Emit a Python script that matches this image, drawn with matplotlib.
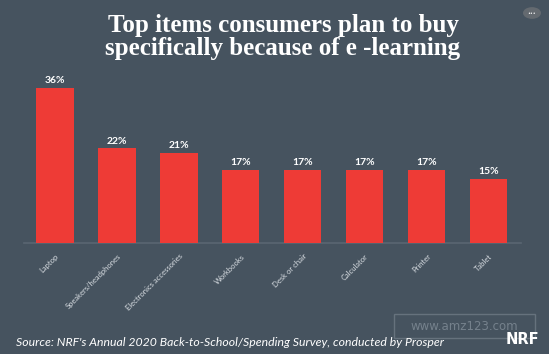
import matplotlib.pyplot as plt
from matplotlib.patches import Rectangle, Circle

items = ['Laptop', 'Speakers/headphones', 'Electronics accessories', 'Workbooks',
         'Desk or chair', 'Calculator', 'Printer', 'Tablet']
shares = [36, 22, 21, 17, 17, 17, 17, 15]

bg = '#46535f'
red = '#ee3b36'
W, H = 554, 361

fig = plt.figure(figsize=(W / 100, H / 100), dpi=100, facecolor=bg)

# baseline at y=243 px, axis line from x=24 to 521 px, bars ~62 px apart
ax = fig.add_axes([24 / W, 1 - 243 / H, 497 / W, (243 - 71) / H])
ax.set_facecolor(bg)
x = list(range(len(items)))
bars = ax.bar(x, shares, width=0.6, color=red, zorder=3)
ax.set_xlim(-0.5, 7.52)
ax.set_ylim(0, 40)

for r, v in zip(bars, shares):
    ax.annotate(f'{v}%', xy=(r.get_x() + r.get_width() / 2, v), xytext=(0, 2),
                textcoords='offset points', ha='center', va='bottom',
                color='white', fontsize=7.5, fontweight='bold', family='Lato')

for s in ['top', 'right', 'left']:
    ax.spines[s].set_visible(False)
ax.spines['bottom'].set_color('#5a6672')
ax.spines['bottom'].set_linewidth(1.2)
ax.set_yticks([])
ax.set_xticks(x)
ax.set_xticklabels(items, rotation=45, ha='right', va='top', rotation_mode='anchor',
                   fontsize=5.5, color='#d8dde2', family='Lato')
ax.tick_params(axis='x', length=0, pad=7)

# title, two lines
fig.text(283 / W, 1 - 32 / H, 'Top items consumers plan to buy',
         ha='center', va='baseline', color='white', fontsize=18, fontweight='bold',
         family='Liberation Serif')
fig.text(283 / W, 1 - 55 / H, 'specifically because of e -learning',
         ha='center', va='baseline', color='white', fontsize=18, fontweight='bold',
         family='Liberation Serif')

fig.text(16 / W, 1 - 342 / H,
         "Source: NRF's Annual 2020 Back-to-School/Spending Survey, conducted by Prosper",
         ha='left', va='center', color='white', fontsize=8.8, style='italic', family='Lato')

# watermark box and logo
fig.patches.append(Rectangle((394 / W, 1 - 338 / H), 141 / W, 24 / H, transform=fig.transFigure,
                             fill=False, edgecolor='#66727d', linewidth=1))
fig.text(464 / W, 1 - 327 / H, 'www.amz123.com', ha='center', va='center',
         color='#75818c', fontsize=8.5, family='DejaVu Sans')
fig.text(522 / W, 1 - 339 / H, 'NRF', ha='center', va='center', color='white',
         fontsize=10.5, fontweight='bold', family='DejaVu Sans')

fig.patches.append(Circle((532 / W, 1 - 13 / H), 9 / W, transform=fig.transFigure,
                          facecolor='#646a70', edgecolor='none'))
fig.text(532 / W, 1 - 13 / H, '•••', ha='center', va='center', color='white', fontsize=3.5)

# white margins at right and bottom
fig.patches.append(Rectangle((549 / W, 0), 5 / W, 1, transform=fig.transFigure,
                             facecolor='white', edgecolor='none'))
fig.patches.append(Rectangle((0, 0), 1, 7 / H, transform=fig.transFigure,
                             facecolor='white', edgecolor='none'))

fig.savefig('out.png', dpi=100, facecolor=bg)
